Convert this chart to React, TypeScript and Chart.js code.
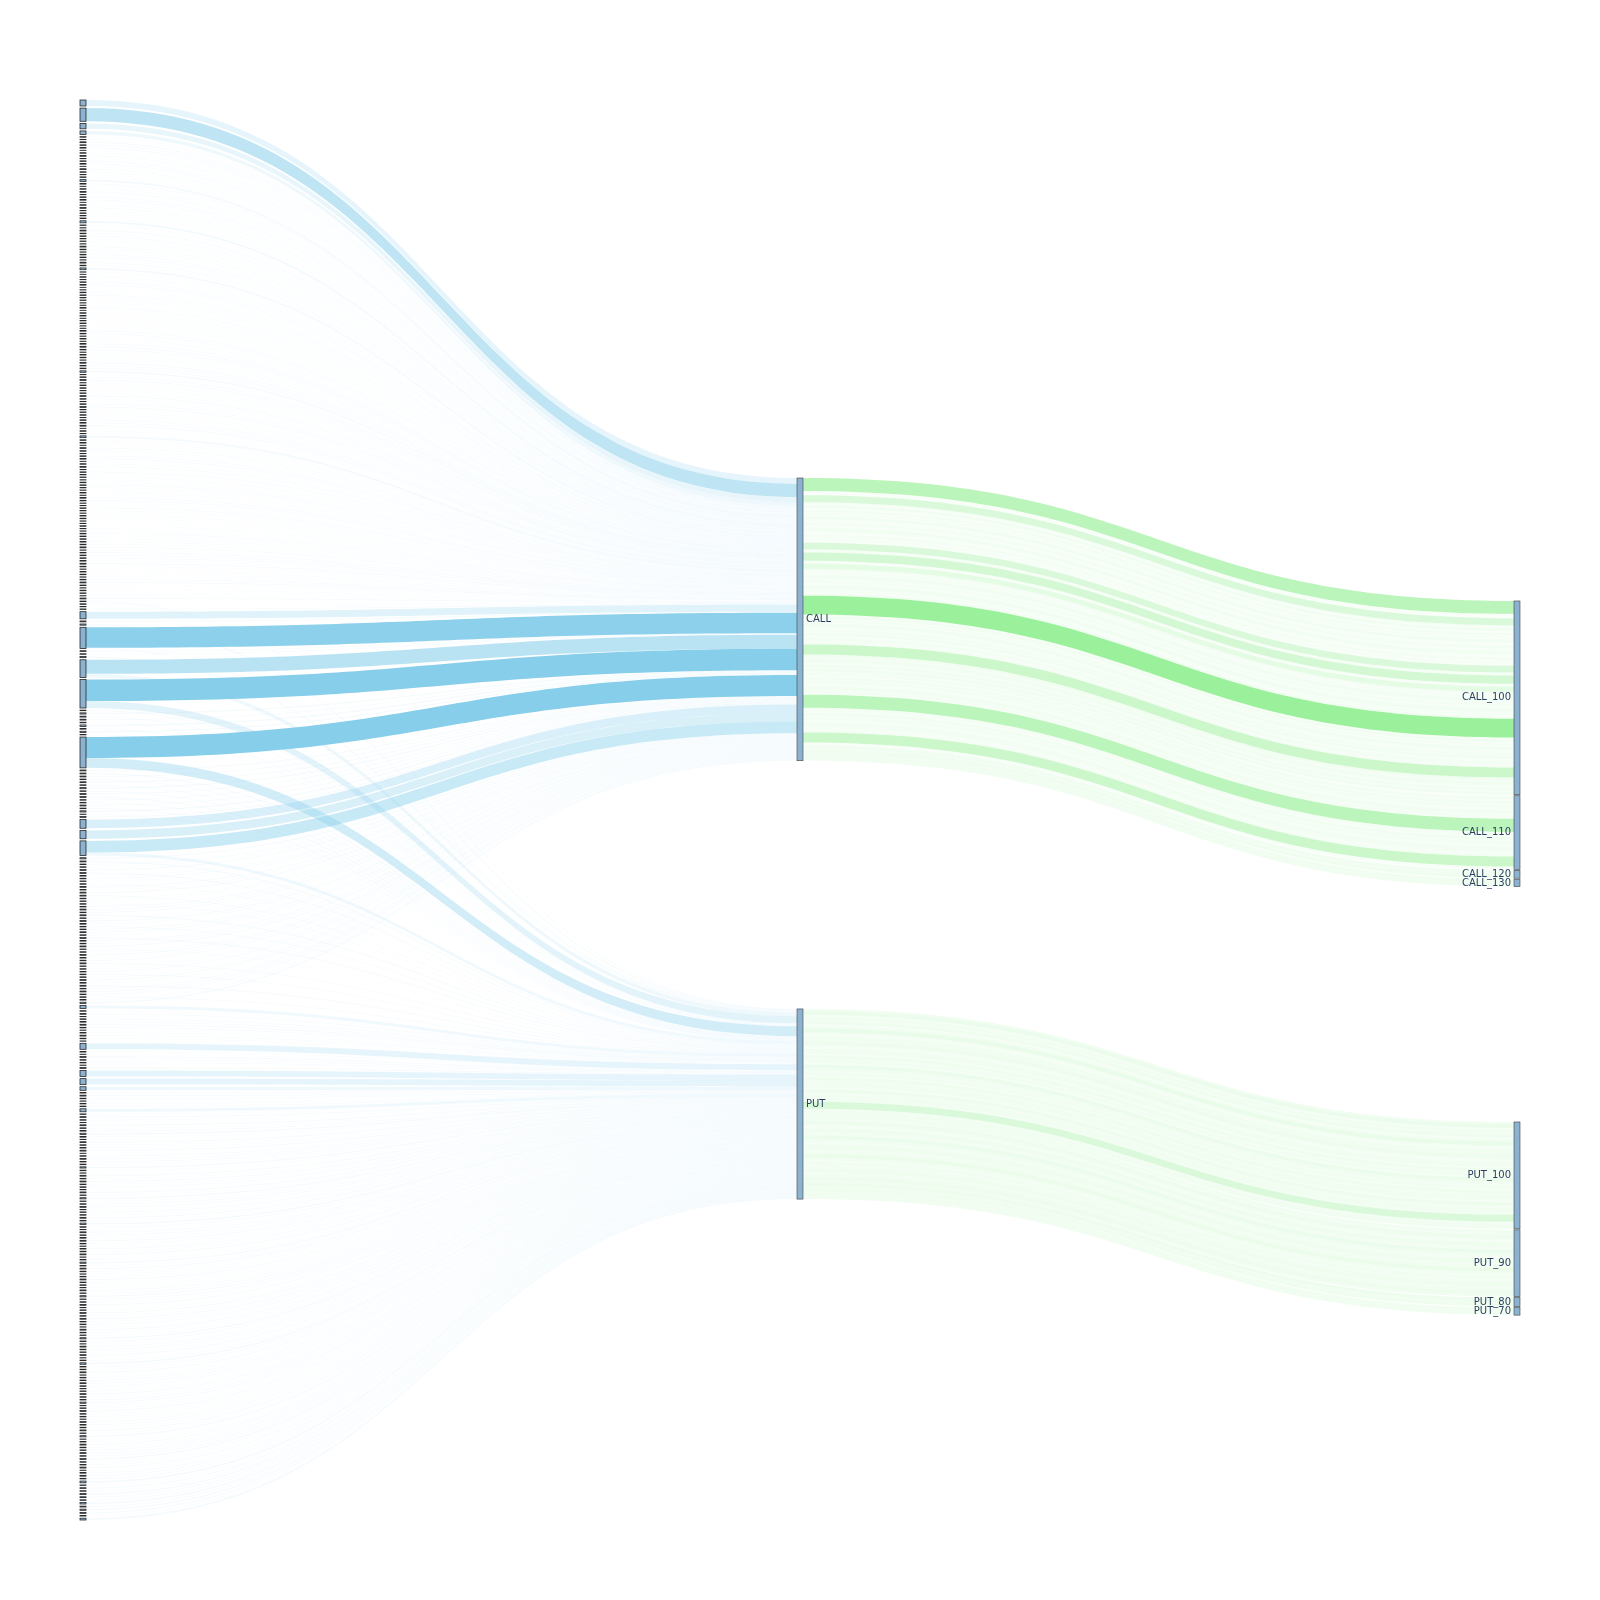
import React, { useEffect, useRef } from 'react';
import { Chart, registerables } from 'chart.js';

Chart.register(...registerables);

// ---------------- DATA ----------------
// Left column: one node per trader (top to bottom). Value of the trader's CALL and PUT flows.
const traderCall: number[] = [
  20, 44, 18, 12,
  2, 1, 3, 2, 2, 1, 2, 3, 1, 2, 2, 1, 3, 2, 1, 2, 6, 2, 1, 2, 3, 1, 2, 2, 1,
  2, 3, 1, 2, 1, 2, 7, 2, 1, 3, 2, 2, 1, 2, 1, 3, 2, 1, 2, 2, 1, 3, 2, 6, 1,
  1, 2, 1, 2, 2, 1, 1, 2, 2, 1, 2, 1, 1, 2, 1, 2, 2, 1, 1, 2, 1, 1, 2, 2, 1,
  2, 1, 2, 3, 2, 1, 2, 2, 1, 3, 2, 2, 5, 1, 2, 3, 1, 2, 2, 1, 2, 3, 2, 1, 2,
  3, 1, 2, 2, 1, 2, 2, 3, 1, 2, 1, 6, 2, 2, 1, 3, 2, 1, 2, 2, 1, 2, 3, 1, 2,
  1, 2, 1, 2, 2, 1, 1, 2, 1, 2, 2, 1, 1, 2, 1, 1, 2, 2, 1, 1, 2, 1, 1, 2, 2,
  2, 2, 2, 3, 1, 2, 2, 2, 2, 3, 2, 1, 2, 2, 1, 2, 3, 2, 1, 2,
  2, 1, 3, 0, 2, 1, 2, 24, 3, 0, 68, 3, 2, 0, 47, 72,
  0, 4, 0, 3, 0, 5, 0, 4, 0,
  70,
  3, 0, 3, 0, 3, 0, 4, 0, 3, 0, 2, 0, 3, 0, 4, 0, 3,
  29, 28, 39, 4, 0,
  2, 2, 3, 0, 2, 2, 2, 0, 3, 2, 3, 0, 2, 2, 0, 2, 3, 2, 0, 2, 3, 2, 0, 2, 3,
  2, 0, 2, 2, 3, 0, 2, 3, 2, 2, 0, 2, 2, 2, 0, 2, 3, 2, 0, 2, 3, 2, 0, 2, 4,
  0, 0, 0, 0, 0, 0, 0, 0, 0, 0, 0, 0, 0, 0, 0, 0, 0, 0, 0, 0, 0, 0, 0, 0, 0,
  0, 0, 0, 0, 0, 0, 0, 0, 0, 0, 0, 0, 0, 0, 0, 0, 0, 0, 0, 0, 0, 0, 0, 0, 0,
  0, 0, 0, 0, 0, 0, 0, 0, 0, 0, 0, 0, 0, 0, 0, 0, 0, 0, 0, 0, 0, 0, 0, 0, 0,
  0, 0, 0, 0, 0, 0, 0, 0, 0, 0, 0, 0, 0, 0, 0, 0, 0, 0, 0, 0, 0, 0, 0, 0, 0,
  0, 0, 0, 0, 0, 0, 0, 0, 0, 0, 0, 0, 0, 0, 0, 0, 0, 0, 0, 0, 0, 0, 0, 0, 0,
  0, 0, 0, 0, 0, 0, 0, 0, 0, 0, 0, 0, 0, 0, 0, 0, 0, 0, 0, 0, 0, 0, 0, 0, 0,
  0, 0, 0, 0, 0, 0, 0, 0, 0, 0, 0, 0, 0, 0, 0, 0, 0, 0, 0, 0, 0, 0, 0, 0, 0,
];

const traderPut: number[] = [
  0, 0, 0, 0,
  0, 0, 0, 0, 0, 0, 0, 0, 0, 0, 0, 0, 0, 0, 0, 0, 0, 0, 0, 0, 0, 0, 0, 0, 0,
  0, 0, 0, 0, 0, 0, 0, 0, 0, 0, 0, 0, 0, 0, 0, 0, 0, 0, 0, 0, 0, 0, 0, 0, 0,
  0, 0, 0, 0, 0, 0, 0, 0, 0, 0, 0, 0, 0, 0, 0, 0, 0, 0, 0, 0, 0, 0, 0, 0, 0,
  0, 0, 0, 0, 0, 0, 0, 0, 0, 0, 0, 0, 0, 0, 0, 0, 0, 0, 0, 0, 0, 0, 0, 0, 0,
  0, 0, 0, 0, 0, 0, 0, 0, 0, 0, 0, 0, 0, 0, 0, 0, 0, 0, 0, 0, 0, 0, 0, 0, 0,
  0, 0, 0, 0, 0, 0, 0, 0, 0, 0, 0, 0, 0, 0, 0, 0, 0, 0, 0, 0, 0, 0, 0, 0, 0,
  0, 0, 0, 0, 0, 0, 0, 0, 0, 0, 0, 0, 0, 0, 0, 0, 0, 0, 0, 0,
  0, 0, 0, 2, 0, 0, 0, 0, 0, 4, 3, 0, 0, 4, 12, 23,
  2, 0, 3, 0, 2, 0, 2, 0, 1,
  33,
  0, 3, 0, 2, 0, 2, 0, 2, 0, 3, 0, 2, 0, 2, 0, 1, 0,
  0, 0, 10, 0, 3,
  0, 0, 0, 3, 0, 0, 0, 2, 0, 0, 0, 3, 0, 0, 2, 0, 0, 0, 3, 0, 0, 0, 2, 0, 0,
  0, 3, 0, 0, 0, 2, 0, 0, 0, 0, 3, 0, 0, 0, 2, 0, 0, 0, 3, 0, 0, 0, 2, 0, 0,
  10, 2, 3, 1, 2, 2, 3, 2, 1, 2, 3, 2, 1, 20, 2, 1, 3, 2, 2, 1, 3, 20, 20, 12, 2, 3, 2, 1, 2, 2, 10,
  2, 3, 2, 1, 3, 2, 2, 4, 2, 1, 3, 2, 2, 3, 1, 2, 3, 2, 2, 4, 2, 1, 3, 2,
  3, 2, 2, 1, 3, 2, 4, 2, 2, 3, 1, 2, 2, 3, 2, 5, 2, 1, 3, 2, 2, 3, 2, 1,
  2, 2, 3, 1, 2, 4, 2, 3, 2, 1, 2, 3, 2, 2, 1, 3, 2, 4, 2, 2, 3, 1, 2, 3,
  2, 3, 2, 2, 1, 3, 2, 2, 4, 2, 1, 3, 2, 2, 3, 1, 2, 5, 2, 2, 3, 1, 2, 2,
  3, 2, 1, 2, 3, 2, 2, 4, 1, 2, 3, 2, 2, 1, 3, 2, 2, 3, 2, 4, 1, 2, 3, 2,
  2, 3, 2, 4, 2, 2, 3, 1, 2, 3, 2, 6, 2, 3, 2, 4, 3, 2, 5, 3, 4, 3, 2, 6,
];

const typeLabels = ['CALL', 'PUT'];
const callStrikeLabels = ['CALL_100', 'CALL_110', 'CALL_120', 'CALL_130'];
const putStrikeLabels = ['PUT_100', 'PUT_90', 'PUT_80', 'PUT_70'];

// Type -> strike flows (one entry per link, in link order)
const call100Links = [
  43, 3, 5, 4, 3, 23,
  6, 4, 8, 5, 3, 7, 5, 6, 4, 9, 5, 3, 6, 7, 4, 5, 8, 6, 3, 5, 7, 4, 6, 5, 4,
  23, 4, 6, 27, 5, 5, 17,
  7, 5, 6, 4, 8, 6, 5, 7, 4, 6, 9, 5, 6, 4, 8,
  63,
  6, 8, 5, 7, 4, 9, 6, 5, 7, 6, 8, 4, 6, 7, 5, 7,
  33,
  9, 6, 8, 7, 5, 8, 6, 9,
];
const call110Links = [6, 7, 5, 8, 6, 7, 5, 6, 8, 6, 7, 6, 43, 7, 6, 5, 8, 6, 7, 6, 5, 8, 7, 6, 5, 7, 33, 5, 5];
const call120Links = [9, 7, 10];
const call130Links = [8, 9, 8];
const put100Links = [
  8, 12, 6, 9, 7, 10, 5, 8, 14, 7, 6, 9, 8, 11, 7, 6, 8, 9, 5, 10,
  7, 8, 6, 12, 9, 7, 8, 6, 10, 7, 9, 8, 6, 11, 7, 8, 9, 7, 23, 7, 9, 8,
];
const put90Links = [9, 7, 11, 8, 6, 10, 8, 7, 12, 9, 6, 8, 10, 7, 9, 13, 8, 6, 9, 7, 8, 10, 7, 9, 11, 8];
const put80Links = [11, 9, 10];
const put70Links = [8, 9, 8];

// ---------------- LAYOUT / STYLE ----------------
const LAYOUT = {
  nodeThickness: 6,
  fill: 0.333, // share of the left column covered by nodes
  typeTop: [0.2662, 0.6401], // fraction of plot height
  strikeTop: [0.3528, 0.7197],
  strikePad: 1,
  alphaRef: 70,
};

const sum = (a: number[]) => a.reduce((s, v) => s + v, 0);

const sankeyPlugin = {
  id: 'sankeyDraw',
  afterDatasetsDraw(chart: any) {
    const ctx: CanvasRenderingContext2D = chart.ctx;
    const xs = chart.scales.x;
    const ys = chart.scales.y;
    const yTop = ys.getPixelForValue(0);
    const yBot = ys.getPixelForValue(1);
    const plotH = yBot - yTop;
    const xL = xs.getPixelForValue(0);
    const xR = xs.getPixelForValue(1);
    const w = LAYOUT.nodeThickness;
    const colX = [xL, xL + (xR - w - xL) * 0.5, xR - w];

    const n = traderCall.length;
    const totals = traderCall.map((c, i) => c + (traderPut[i] || 0));
    const grand = sum(totals);
    const k = (LAYOUT.fill * plotH) / grand;
    const pad = (plotH - grand * k) / (n - 1);

    let yy = yTop;
    const left = totals.map((v) => {
      const nd = { y0: yy, h: v * k };
      yy += v * k + pad;
      return nd;
    });

    const groups = [
      [call100Links, call110Links, call120Links, call130Links],
      [put100Links, put90Links, put80Links, put70Links],
    ];
    const inTotals = [sum(traderCall), sum(traderPut)];
    const outTotals = groups.map((g) => sum(g.map(sum)));
    const mid = [0, 1].map((t) => ({
      y0: ys.getPixelForValue(LAYOUT.typeTop[t]),
      h: Math.max(inTotals[t], outTotals[t]) * k,
    }));
    const right = groups.map((g, t) => {
      let y = ys.getPixelForValue(LAYOUT.strikeTop[t]);
      return g.map((links) => {
        const h = sum(links) * k;
        const nd = { y0: y, h };
        y += h + LAYOUT.strikePad;
        return nd;
      });
    });

    const band = (x0: number, y0: number, x1: number, y1: number, h: number, color: string) => {
      const xm = (x0 + x1) / 2;
      ctx.beginPath();
      ctx.moveTo(x0, y0);
      ctx.bezierCurveTo(xm, y0, xm, y1, x1, y1);
      ctx.lineTo(x1, y1 + h);
      ctx.bezierCurveTo(xm, y1 + h, xm, y0 + h, x0, y0 + h);
      ctx.closePath();
      ctx.fillStyle = color;
      ctx.fill();
    };
    const blueAlpha = (v: number) => 0.07 + 0.93 * Math.pow(Math.min(1, v / LAYOUT.alphaRef), 1.5);
    const greenAlpha = (v: number) => Math.min(1, v / LAYOUT.alphaRef);

    ctx.save();
    // trader -> type links
    const midIn = [mid[0].y0, mid[1].y0];
    for (let i = 0; i < n; i++) {
      let sy = left[i].y0;
      [traderCall[i], traderPut[i] || 0].forEach((v, t) => {
        if (v <= 0) return;
        const h = v * k;
        band(colX[0] + w, sy, colX[1], midIn[t], h, `rgba(135,206,235,${blueAlpha(v).toFixed(3)})`);
        sy += h;
        midIn[t] += h;
      });
    }
    // type -> strike links
    groups.forEach((g, t) => {
      let sy = mid[t].y0;
      g.forEach((links, s) => {
        let ty = right[t][s].y0;
        links.forEach((v) => {
          const h = v * k;
          band(colX[1] + w, sy, colX[2], ty, h, `rgba(144,238,144,${greenAlpha(v).toFixed(3)})`);
          sy += h;
          ty += h;
        });
      });
    });

    // nodes
    const drawNode = (x: number, y: number, h: number, lw: number, stroke: string) => {
      ctx.fillStyle = 'rgba(70,130,180,0.62)';
      ctx.fillRect(x, y, w, h);
      ctx.strokeStyle = stroke;
      ctx.lineWidth = lw;
      ctx.strokeRect(x, y, w, h);
    };
    left.forEach((nd) => drawNode(colX[0], nd.y0, nd.h, 0.8, '#2a2a2a'));
    mid.forEach((nd) => drawNode(colX[1], nd.y0, nd.h, 0.6, '#444'));
    right.forEach((g) => g.forEach((nd) => drawNode(colX[2], nd.y0, nd.h, 0.6, '#444')));

    // labels
    ctx.font = '10px "DejaVu Sans", sans-serif';
    ctx.fillStyle = '#2a3f5f';
    ctx.textBaseline = 'middle';
    ctx.textAlign = 'left';
    mid.forEach((nd, t) => ctx.fillText(typeLabels[t], colX[1] + w + 3, nd.y0 + nd.h / 2));
    ctx.textAlign = 'right';
    const strikeLabels = [callStrikeLabels, putStrikeLabels];
    right.forEach((g, t) =>
      g.forEach((nd, s) => ctx.fillText(strikeLabels[t][s], colX[2] - 3, nd.y0 + nd.h / 2))
    );
    ctx.restore();
  },
};

export default function App() {
  const ref = useRef<HTMLCanvasElement | null>(null);
  useEffect(() => {
    if (!ref.current) return;
    const chart = new Chart(ref.current, {
      type: 'scatter',
      data: { datasets: [{ data: [] }] },
      options: {
        animation: false,
        responsive: false,
        maintainAspectRatio: false,
        devicePixelRatio: 1,
        events: [],
        layout: { padding: { left: 80, right: 80, top: 100, bottom: 80 } },
        plugins: { legend: { display: false }, tooltip: { enabled: false } },
        scales: {
          x: { type: 'linear', min: 0, max: 1, display: false },
          y: { type: 'linear', min: 0, max: 1, reverse: true, display: false },
        },
      },
      plugins: [sankeyPlugin],
    });
    return () => chart.destroy();
  }, []);
  return (
    <div style={{ position: 'absolute', left: 0, top: 0, width: 1600, height: 1600, background: '#fff' }}>
      <canvas ref={ref} width={1600} height={1600} style={{ width: 1600, height: 1600 }} />
    </div>
  );
}
